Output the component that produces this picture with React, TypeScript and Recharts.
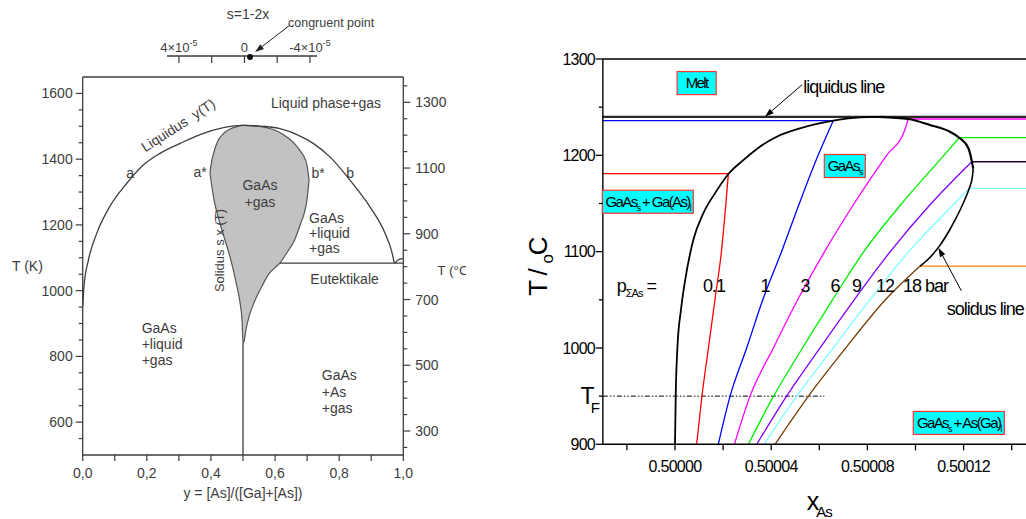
import React from 'react';
import { ComposedChart, Line, Area, Scatter, XAxis, YAxis, ReferenceLine, ReferenceDot } from 'recharts';

const FONT = "'Liberation Sans', Arial, Helvetica, sans-serif";
const INK = '#3d3d3d';

// ---------- left panel: T (K) vs y = [As]/([Ga]+[As]) ----------
const compTicks = [0, 0.1, 0.2, 0.3, 0.4, 0.5, 0.6, 0.7, 0.8, 0.9, 1.0];
const kelvinTicks = [550, 600, 650, 700, 750, 800, 850, 900, 950, 1000, 1050, 1100, 1150, 1200, 1250, 1300, 1350, 1400, 1450, 1500, 1550, 1600];
const celsiusTicks = [250, 300, 350, 400, 450, 500, 550, 600, 650, 700, 750, 800, 850, 900, 950, 1000, 1050, 1100, 1150, 1200, 1250, 1300, 1350];
const sTicks = [-4, -2, 0, 2, 4];

// liquidus y(T)
const liquidusOuter = [
  { comp: 0.0, T: 952 }, { comp: 0.004, T: 1013 }, { comp: 0.018, T: 1094 }, { comp: 0.044, T: 1175 },
  { comp: 0.084, T: 1255 }, { comp: 0.137, T: 1326 }, { comp: 0.189, T: 1382 }, { comp: 0.24, T: 1417 },
  { comp: 0.304, T: 1448 }, { comp: 0.366, T: 1475 }, { comp: 0.439, T: 1496 }, { comp: 0.5, T: 1503 },
  { comp: 0.563, T: 1500 }, { comp: 0.615, T: 1493 }, { comp: 0.67, T: 1474 }, { comp: 0.719, T: 1448 },
  { comp: 0.771, T: 1407 }, { comp: 0.834, T: 1336 }, { comp: 0.896, T: 1255 }, { comp: 0.943, T: 1175 },
  { comp: 0.964, T: 1119 }, { comp: 0.972, T: 1084 },
];

// solidus s x(T): GaAs + gas region (lower / upper boundary)
const solidusLens = [
  { comp: 0.397, lo: 1357, hi: 1357 }, { comp: 0.4, lo: 1336, hi: 1381 }, { comp: 0.41, lo: 1274, hi: 1424 },
  { comp: 0.42, lo: 1233, hi: 1452 }, { comp: 0.44, lo: 1166, hi: 1479 }, { comp: 0.46, lo: 1101, hi: 1492 },
  { comp: 0.48, lo: 1018, hi: 1499 }, { comp: 0.49, lo: 968, hi: 1502 }, { comp: 0.497, lo: 910, hi: 1503 },
  { comp: 0.5, lo: 841, hi: 1503 }, { comp: 0.503, lo: 845, hi: 1503 }, { comp: 0.51, lo: 885, hi: 1503 },
  { comp: 0.52, lo: 925, hi: 1502 }, { comp: 0.54, lo: 976, hi: 1500 }, { comp: 0.56, lo: 1015, hi: 1498 },
  { comp: 0.58, lo: 1050, hi: 1494 }, { comp: 0.6, lo: 1070, hi: 1488 }, { comp: 0.615, lo: 1084, hi: 1481 },
  { comp: 0.64, lo: 1120, hi: 1465 }, { comp: 0.66, lo: 1152, hi: 1448 }, { comp: 0.68, lo: 1205, hi: 1423 },
  { comp: 0.69, lo: 1232, hi: 1408 }, { comp: 0.7, lo: 1280, hi: 1380 }, { comp: 0.706, lo: 1336, hi: 1336 },
];

const stoichLine = [{ comp: 0.5, T: 841 }, { comp: 0.5, T: 500 }];
const eutectic = [{ comp: 0.615, T: 1084 }, { comp: 1.0, T: 1084 }];
const asMeltArc = [{ comp: 0.974, T: 1084 }, { comp: 0.984, T: 1093 }, { comp: 0.998, T: 1098 }];
const congruentPoint = [{ s: -0.34, v: 0 }];

// ---------- right panel: T (°C) vs x_As, dx in units of 1e-5 above 0.5 ----------
const xAsTicks = [-2, 0, 2, 4, 6, 8, 10, 12, 14];
const tTicks = [900, 950, 1000, 1050, 1100, 1150, 1200, 1250, 1300];
const liquidusT = 1240;
const growthT = 950;

// solidus / liquidus loop of GaAs(s), in three x-monotone pieces
const boundaryLeft = [
  { dx: 0.0, T: 900 }, { dx: 0.03, T: 950 }, { dx: 0.1, T: 1000 }, { dx: 0.25, T: 1040 },
  { dx: 0.42, T: 1070 }, { dx: 0.76, T: 1112 }, { dx: 1.18, T: 1140 }, { dx: 1.66, T: 1160.5 },
  { dx: 2.22, T: 1180.6 }, { dx: 2.84, T: 1195 }, { dx: 3.53, T: 1209 }, { dx: 4.23, T: 1219.3 },
  { dx: 5.2, T: 1228 }, { dx: 6.58, T: 1236 }, { dx: 7.69, T: 1239.5 }, { dx: 8.5, T: 1240 },
];
const boundaryUpperRight = [
  { dx: 8.5, T: 1240 }, { dx: 9.7, T: 1237.7 }, { dx: 10.6, T: 1231.5 }, { dx: 11.43, T: 1224.5 },
  { dx: 11.82, T: 1218.3 }, { dx: 12.2, T: 1207.3 }, { dx: 12.34, T: 1194 }, { dx: 12.4, T: 1186 },
];
const boundaryLowerRight = [
  { dx: 10.19, T: 1085 }, { dx: 10.6, T: 1094 }, { dx: 11.0, T: 1106 }, { dx: 11.43, T: 1123 },
  { dx: 11.85, T: 1143 }, { dx: 12.1, T: 1157 }, { dx: 12.24, T: 1166 }, { dx: 12.36, T: 1177 }, { dx: 12.4, T: 1186 },
];

// iso-pressure lines p_ΣAs = 0.1 … 18 bar (horizontal part + curve inside the GaAs field)
const p0_1Flat = [{ dx: -3, T: 1181 }, { dx: 2.22, T: 1181 }];
const p0_1 = [
  { dx: 0.9, T: 900 }, { dx: 1.12, T: 950 }, { dx: 1.39, T: 1000 }, { dx: 1.66, T: 1050 },
  { dx: 1.93, T: 1100 }, { dx: 2.22, T: 1181 },
];
const p1Flat = [{ dx: -3, T: 1236 }, { dx: 6.58, T: 1236 }];
const p1 = [
  { dx: 1.8, T: 900 }, { dx: 2.29, T: 950 }, { dx: 2.98, T: 1000 }, { dx: 3.65, T: 1050 },
  { dx: 4.43, T: 1100 }, { dx: 5.17, T: 1150 }, { dx: 5.95, T: 1200 }, { dx: 6.58, T: 1236 },
];
const p3Flat = [{ dx: 9.7, T: 1237.7 }, { dx: 15, T: 1237.7 }];
const p3 = [
  { dx: 2.47, T: 900 }, { dx: 3.12, T: 950 }, { dx: 4.09, T: 1000 }, { dx: 5.1, T: 1050 },
  { dx: 6.22, T: 1100 }, { dx: 7.45, T: 1150 }, { dx: 8.8, T: 1200 }, { dx: 9.55, T: 1226 }, { dx: 9.7, T: 1237.7 },
];
const p6Flat = [{ dx: 11.82, T: 1218.3 }, { dx: 15, T: 1218.3 }];
const p6 = [
  { dx: 3.05, T: 900 }, { dx: 4.1, T: 950 }, { dx: 5.3, T: 1000 }, { dx: 6.55, T: 1050 },
  { dx: 7.85, T: 1100 }, { dx: 9.43, T: 1150 }, { dx: 11.18, T: 1200 }, { dx: 11.82, T: 1218.3 },
];
const p9Flat = [{ dx: 12.34, T: 1193.4 }, { dx: 15, T: 1193.4 }];
const p9 = [
  { dx: 3.4, T: 900 }, { dx: 4.64, T: 950 }, { dx: 6.03, T: 1000 }, { dx: 7.45, T: 1050 },
  { dx: 8.95, T: 1100 }, { dx: 10.65, T: 1150 }, { dx: 12.34, T: 1193.4 },
];
const p12Flat = [{ dx: 12.24, T: 1165.7 }, { dx: 15, T: 1165.7 }];
const p12 = [
  { dx: 3.71, T: 900 }, { dx: 5.06, T: 950 }, { dx: 6.58, T: 1000 }, { dx: 8.1, T: 1050 },
  { dx: 9.72, T: 1100 }, { dx: 11.63, T: 1150 }, { dx: 12.24, T: 1165.7 },
];
const p18Flat = [{ dx: 10.19, T: 1085 }, { dx: 15, T: 1085 }];
const p18 = [
  { dx: 4.16, T: 900 }, { dx: 5.55, T: 950 }, { dx: 7.1, T: 1000 }, { dx: 8.75, T: 1050 }, { dx: 10.19, T: 1085 },
];
const tfLine = [{ dx: -3, T: growthT }, { dx: 6.21, T: growthT }];

const pressureLabels = ['0.1', '1', '3', '6', '9', '12'];

// ---------- helpers ----------
function arrowShape(tailDx: number, tailDy: number, color = '#000') {
  return (p: any) => {
    const x2 = p.cx, y2 = p.cy, x1 = p.cx + tailDx, y1 = p.cy + tailDy;
    const a = Math.atan2(y2 - y1, x2 - x1);
    const L = 9, W = 3;
    const bx = x2 - L * Math.cos(a), by = y2 - L * Math.sin(a);
    const pts = `${x2},${y2} ${bx - W * Math.sin(a)},${by + W * Math.cos(a)} ${bx + W * Math.sin(a)},${by - W * Math.cos(a)}`;
    return (
      <g>
        <line x1={x1} y1={y1} x2={bx} y2={by} stroke={color} strokeWidth={1} />
        <polygon points={pts} fill={color} />
      </g>
    );
  };
}

function leftNote(key: string, comp: number, T: number, lines: string[], anchor: 'start' | 'middle' = 'middle', step = 16, rotate = 0, size = 14) {
  return (
    <ReferenceDot key={key} yAxisId="K" x={comp} y={T} r={0} ifOverflow="visible"
      shape={(p: any) => (
        <text x={p.cx} y={p.cy} textAnchor={anchor} fontSize={size} fontFamily={FONT} fill={INK}
          transform={rotate ? `rotate(${rotate} ${p.cx} ${p.cy})` : undefined}>
          {lines.map((l, i) => (
            <tspan key={i} x={p.cx} y={p.cy + i * step} dy="0.35em">{l}</tspan>
          ))}
        </text>
      )} />
  );
}

function rightText(key: string, dx: number, T: number, content: React.ReactNode, anchor: 'start' | 'middle' = 'middle', size = 18) {
  return (
    <ReferenceDot key={key} x={dx} y={T} r={0} ifOverflow="visible"
      shape={(p: any) => (
        <text x={p.cx} y={p.cy + size * 0.36} textAnchor={anchor} fontSize={size} letterSpacing={-1}
          fontFamily={FONT} fill="#000">{content}</text>
      )} />
  );
}

function boxNote(key: string, dx: number, T: number, w: number, content: React.ReactNode) {
  return (
    <ReferenceDot key={key} x={dx} y={T} r={0} ifOverflow="visible"
      shape={(p: any) => (
        <g>
          <rect x={p.cx - w / 2} y={p.cy - 11.5} width={w} height={23} fill="#00ffff" stroke="#ff3030" strokeWidth={1.2} />
          <text x={p.cx} y={p.cy + 5} textAnchor="middle" fontSize={15} letterSpacing={-1.6} fontFamily={FONT} fill="#000">{content}</text>
        </g>
      )} />
  );
}

// ---------- ticks ----------
function CompTick(p: any) {
  const v = p.payload.value;
  const major = Math.round(v * 10) % 2 === 0;
  return (
    <g>
      <line x1={p.x} x2={p.x} y1={p.y} y2={p.y + 6} stroke={INK} strokeWidth={1.2} />
      {major && <text x={p.x} y={p.y + 23} textAnchor="middle" fontSize={14} fontFamily={FONT} fill={INK}>{v.toFixed(1).replace('.', ',')}</text>}
    </g>
  );
}

function KTick(p: any) {
  const v = p.payload.value;
  const major = v % 200 === 0;
  return (
    <g>
      <line x1={p.x} x2={p.x - (major ? 7 : 4)} y1={p.y} y2={p.y} stroke={INK} strokeWidth={1.2} />
      {major && <text x={p.x - 10} y={p.y} dy="0.36em" textAnchor="end" fontSize={14} fontFamily={FONT} fill={INK}>{v}</text>}
    </g>
  );
}

function CTick(p: any) {
  const v = p.payload.value;
  const major = (v - 300) % 200 === 0;
  return (
    <g>
      <line x1={p.x} x2={p.x + (major ? 7 : 4)} y1={p.y} y2={p.y} stroke={INK} strokeWidth={1.2} />
      {major && <text x={p.x + 12} y={p.y} dy="0.36em" textAnchor="start" fontSize={14} fontFamily={FONT} fill={INK}>{v}</text>}
    </g>
  );
}

function STick(p: any) {
  const v = p.payload.value;
  const y = p.y - 11;
  if (v === 0) return <text x={p.x} y={y} textAnchor="middle" fontSize={13} fontFamily={FONT} fill={INK}>0</text>;
  if (Math.abs(v) !== 4) return <g />;
  return (
    <text x={p.x} y={y} textAnchor="middle" fontSize={13} fontFamily={FONT} fill={INK}>
      {v > 0 ? '4×10' : '-4×10'}<tspan fontSize={9} dy={-6}>-5</tspan>
    </text>
  );
}

function XAsTick(p: any) {
  const v = p.payload.value;
  const major = v % 4 === 0;
  return (
    <g>
      <line x1={p.x} x2={p.x} y1={p.y} y2={p.y + 6} stroke="#000" strokeWidth={1.3} />
      {major && <text x={p.x} y={p.y + 28} textAnchor="middle" fontSize={16} letterSpacing={-0.7} fontFamily={FONT} fill="#000">{(0.5 + v / 1e5).toFixed(5)}</text>}
    </g>
  );
}

function TTick(p: any) {
  const v = p.payload.value;
  const major = v % 100 === 0;
  return (
    <g>
      <line x1={p.x} x2={p.x - (major ? 7 : 4)} y1={p.y} y2={p.y} stroke="#000" strokeWidth={1.3} />
      {major && <text x={p.x - 8} y={p.y} dy="0.36em" textAnchor="end" fontSize={16} letterSpacing={-0.8} fontFamily={FONT} fill="#000">{v}</text>}
      {v === growthT && (
        <text x={p.x - 3} y={p.y + 8} textAnchor="end" fontSize={23} fontFamily={FONT} fill="#000">
          T<tspan fontSize={15} dy={9} dx={-4}>F</tspan>
        </text>
      )}
    </g>
  );
}

// ---------- panels ----------
function LeftPanel() {
  const line = { stroke: INK, strokeWidth: 1.3, dot: false, isAnimationActive: false, yAxisId: 'K' } as const;
  return (
    <div style={{ position: 'absolute', left: 0, top: 0 }}>
      <ComposedChart width={466} height={519} margin={{ top: 77, right: 0, bottom: 0, left: 0 }}>
        <XAxis dataKey="comp" type="number" domain={[0, 1]} allowDataOverflow ticks={compTicks} interval={0}
          height={64} tickSize={0} tickMargin={0} tickLine={false} tick={(p: any) => <CompTick {...p} />}
          axisLine={{ stroke: INK, strokeWidth: 1.3 }}
          label={{ value: 'y = [As]/([Ga]+[As])', position: 'insideBottom', offset: 21, fill: INK, fontSize: 14, fontFamily: FONT }} />
        <YAxis yAxisId="K" type="number" domain={[500, 1650]} allowDataOverflow ticks={kelvinTicks} interval={0}
          width={82.7} tickSize={0} tickMargin={0} tickLine={false} tick={(p: any) => <KTick {...p} />}
          axisLine={{ stroke: INK, strokeWidth: 1.3 }}
          label={{ value: 'T (K)', position: 'insideLeft', offset: 12, fill: INK, fontSize: 14, fontFamily: FONT }} />
        <YAxis yAxisId="C" orientation="right" type="number" domain={[227, 1377]} allowDataOverflow ticks={celsiusTicks} interval={0}
          width={62.7} tickSize={0} tickMargin={0} tickLine={false} tick={(p: any) => <CTick {...p} />}
          axisLine={{ stroke: INK, strokeWidth: 1.3 }}
          label={{ value: 'T (°C)', position: 'insideLeft', offset: 34, fill: INK, fontSize: 13.5, fontFamily: FONT, dy: 4 }} />
        <ReferenceLine yAxisId="K" y={1650} stroke={INK} strokeWidth={1.3} />
        <Area yAxisId="K" data={solidusLens} dataKey={(d: any) => [d.lo, d.hi]} type="monotone" fill="#c2c2c2" fillOpacity={1}
          stroke="#555" strokeWidth={1.2} isAnimationActive={false} />
        <Line {...line} data={liquidusOuter} dataKey="T" type="monotone" />
        <Line {...line} data={stoichLine} dataKey="T" type="linear" />
        <Line {...line} data={eutectic} dataKey="T" type="linear" />
        <Line {...line} data={asMeltArc} dataKey="T" type="monotone" />
        {leftNote('lpg', 0.759, 1570, ['Liquid phase+gas'])}
        {leftNote('liq', 0.298, 1503, ['Liquidus\u00a0 y(T)'], 'middle', 16, -33)}
        {leftNote('a', 0.148, 1358, ['a'])}
        {leftNote('as', 0.366, 1361, ['a*'])}
        {leftNote('bs', 0.734, 1358, ['b*'])}
        {leftNote('b', 0.834, 1358, ['b'])}
        {leftNote('gg', 0.553, 1321, ['GaAs', '+gas'], 'middle', 17)}
        {leftNote('glg', 0.706, 1221, ['GaAs', '+liquid', '+gas'], 'start', 15)}
        {leftNote('eut', 0.71, 1036, ['Eutektikale'], 'start')}
        {leftNote('sol', 0.428, 1122, ['Solidus s x (T)'], 'middle', 16, -90, 13)}
        {leftNote('glg2', 0.184, 885, ['GaAs', '+liquid', '+gas'], 'start', 16)}
        {leftNote('gag', 0.746, 742, ['GaAs', '+As', '+gas'], 'start', 16.5)}
      </ComposedChart>
    </div>
  );
}

function CongruentAxis() {
  return (
    <div style={{ position: 'absolute', left: 150, top: 0 }}>
      <ComposedChart width={260} height={70} margin={{ top: 40, right: 93, bottom: 0, left: 17 }}>
        <XAxis dataKey="s" type="number" domain={[-4.43, 4.73]} reversed ticks={sTicks} interval={0}
          height={14} tickSize={7} tickMargin={0} tickLine={{ stroke: INK, strokeWidth: 1.2 }}
          axisLine={{ stroke: INK, strokeWidth: 1.3 }} tick={(p: any) => <STick {...p} />}
          label={(props: any) => {
            const vb = props.viewBox || { x: 17, y: 56, width: 150 };
            return <text x={vb.x + vb.width / 2 + 6} y={vb.y - 37} textAnchor="middle" fontSize={14} fontFamily={FONT} fill={INK}>s=1-2x</text>;
          }} />
        <YAxis hide type="number" domain={[0, 1]} />
        <Scatter data={congruentPoint} dataKey="v" isAnimationActive={false}
          shape={(p: any) => {
            const arrow = arrowShape(35, -27, '#222')({ cx: p.cx + 5, cy: p.cy - 4 });
            return (
              <g>
                <circle cx={p.cx} cy={p.cy + 1} r={3} fill="#111" />
                {arrow}
                <text x={p.cx + 38} y={p.cy - 29} fontSize={12.5} fontFamily={FONT} fill={INK}>congruent point</text>
              </g>
            );
          }} />
      </ComposedChart>
    </div>
  );
}

function RightPanel() {
  const base = { dot: false, isAnimationActive: false, strokeWidth: 1.3, type: 'linear' } as const;
  const curve = { dot: false, isAnimationActive: false, strokeWidth: 1.3, type: 'monotone' } as const;
  const labelDx = [1.62, 3.74, 5.41, 6.65, 7.55, 8.73];
  return (
    <div style={{ position: 'absolute', left: 520, top: 0 }}>
      <ComposedChart width={520} height={519} margin={{ top: 59, right: 4.25, bottom: 0, left: 0 }}>
        <XAxis dataKey="dx" type="number" domain={[-3, 15]} allowDataOverflow ticks={xAsTicks} interval={0}
          height={74.7} tickSize={0} tickMargin={0} tickLine={false} tick={(p: any) => <XAsTick {...p} />}
          axisLine={{ stroke: '#000', strokeWidth: 1.4 }}
          label={(props: any) => {
            const vb = props.viewBox || { x: 82.85, y: 444.3, width: 432.9 };
            return (
              <text x={vb.x + vb.width / 2} y={vb.y + 66} textAnchor="middle" fontSize={25} fontFamily={FONT} fill="#000">
                x<tspan fontSize={15} dy={7} dx={-3} letterSpacing={-1}>As</tspan>
              </text>
            );
          }} />
        <YAxis type="number" domain={[900, 1300]} allowDataOverflow ticks={tTicks} interval={0}
          width={82.85} tickSize={0} tickMargin={0} tickLine={false} tick={(p: any) => <TTick {...p} />}
          axisLine={{ stroke: '#000', strokeWidth: 1.4 }}
          label={(props: any) => {
            const vb = props.viewBox || { x: 0, y: 59, height: 385.3 };
            const cx = vb.x + 27, cy = vb.y + vb.height / 2 + 15;
            return (
              <text transform={`translate(${cx},${cy}) rotate(-90)`} textAnchor="middle" fontSize={26} letterSpacing={-1.2} fontFamily={FONT} fill="#000">
                T / <tspan fontSize={17} dy={6}>o</tspan><tspan dy={-6}>C</tspan>
              </text>
            );
          }} />
        <ReferenceLine y={1300} stroke="#000" strokeWidth={1.4} />
        <ReferenceLine y={liquidusT} stroke="#2a2a2a" strokeWidth={2.3} />
        <Line {...base} data={tfLine} dataKey="T" stroke="#000" strokeWidth={1} strokeDasharray="5 2 1.5 2 1.5 2" />

        <Line {...base} data={p0_1Flat} dataKey="T" stroke="#ff0000" />
        <Line {...curve} data={p0_1} dataKey="T" stroke="#ff0000" />
        <Line {...base} data={p1Flat} dataKey="T" stroke="#0000ff" />
        <Line {...curve} data={p1} dataKey="T" stroke="#0000ff" />
        <Line {...base} data={p3Flat} dataKey="T" stroke="#ff00ff" />
        <Line {...curve} data={p3} dataKey="T" stroke="#ff00ff" />
        <Line {...base} data={p6Flat} dataKey="T" stroke="#00ee00" />
        <Line {...curve} data={p6} dataKey="T" stroke="#00ee00" />
        <Line {...base} data={p9Flat} dataKey="T" stroke="#24003f" strokeWidth={1.6} />
        <Line {...curve} data={p9} dataKey="T" stroke="#8000ff" />
        <Line {...base} data={p12Flat} dataKey="T" stroke="#80ffff" />
        <Line {...curve} data={p12} dataKey="T" stroke="#80ffff" />
        <Line {...base} data={p18Flat} dataKey="T" stroke="#ff8000" />
        <Line {...curve} data={p18} dataKey="T" stroke="#7a3c00" />

        <Line {...curve} data={boundaryLeft} dataKey="T" stroke="#000" strokeWidth={1.8} />
        <Line {...curve} data={boundaryUpperRight} dataKey="T" stroke="#000" strokeWidth={2.2} />
        <Line {...curve} data={boundaryLowerRight} dataKey="T" stroke="#000" strokeWidth={1.6} />

        {boxNote('melt', 0.9, 1275, 39, 'Melt')}
        {boxNote('gaas', 7.06, 1188.9, 41, <>GaAs<tspan fontSize={9} dy={4}>s</tspan></>)}
        {boxNote('gaasl', -1.13, 1151.8, 91, <>GaAs<tspan fontSize={9} dy={4}>s</tspan><tspan dy={-4}> + Ga(As)</tspan><tspan fontSize={9} dy={4}>l</tspan></>)}
        {boxNote('gaasr', 11.8, 922.2, 91, <>GaAs<tspan fontSize={9} dy={4}>s</tspan><tspan dy={-4}> + As(Ga)</tspan><tspan fontSize={9} dy={4}>l</tspan></>)}

        {rightText('liqline', 5.33, 1271.2, 'liquidus line', 'start')}
        <ReferenceDot x={3.74} y={liquidusT} r={0} ifOverflow="visible" shape={arrowShape(37, -32)} />
        {rightText('solline', 11.3, 1041, 'solidus line', 'start')}
        <ReferenceDot x={10.95} y={1104} r={0} ifOverflow="visible" shape={arrowShape(23, 43)} />

        {rightText('peq', -2.42, 1065.3, <>p<tspan fontSize={11} dy={5}>ΣAs</tspan><tspan dy={-5}> =</tspan></>, 'start')}
        {pressureLabels.map((lab, i) => rightText('pl' + i, labelDx[i], 1065.3, lab))}
        {rightText('p18', 9.48, 1065.3, '18 bar', 'start')}
      </ComposedChart>
    </div>
  );
}

export default function App() {
  return (
    <div style={{ position: 'absolute', left: 0, top: 0, width: 1026, height: 519, overflow: 'hidden', background: '#fff', fontFamily: FONT }}>
      <LeftPanel />
      <CongruentAxis />
      <RightPanel />
    </div>
  );
}
